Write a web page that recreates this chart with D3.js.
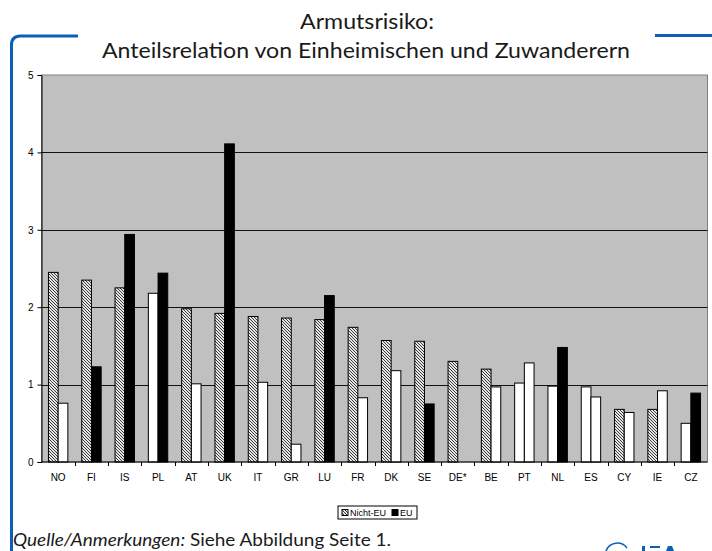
<!DOCTYPE html>
<html>
<head>
<meta charset="utf-8">
<script src="https://cdn.jsdelivr.net/npm/d3@7"></script>
<style>
  body { margin: 0; background: #fff; }
  svg { display: block; }
</style>
</head>
<body>
<svg id="chart" width="712" height="551"></svg>
<script>
// countries, sorted as in the original
var countries = ["NO","FI","IS","PL","AT","UK","IT","GR","LU","FR","DK","SE","DE*","BE","PT","NL","ES","CY","IE","CZ"];
// ratio natives / migrants, non-EU migrants
var nichtEU = [2.45,2.35,2.25,2.18,1.98,1.92,1.88,1.86,1.84,1.74,1.57,1.56,1.30,1.20,1.02,0.98,0.97,0.68,0.68,0.50];
// 1 = significant (patterned), 0 = white bar
var nichtEUSig = [1,1,1,0,1,1,1,1,1,1,1,1,1,1,0,0,0,1,1,0];
// EU migrants
var eu = [0.76,1.23,2.94,2.44,1.01,4.11,1.03,0.23,2.15,0.83,1.18,0.75,null,0.97,1.28,1.48,0.84,0.64,0.92,0.89];
var euSig = [0,1,1,1,0,1,0,0,1,0,0,1,0,0,0,1,0,0,0,1];
var yTicks = [0,1,2,3,4,5];

(function() {
var svg = d3.select("#chart");

var defs = svg.append("defs");
var pat = defs.append("pattern")
    .attr("id", "hatch")
    .attr("patternUnits", "userSpaceOnUse")
    .attr("width", 3).attr("height", 3);
pat.append("rect").attr("width", 3).attr("height", 3).attr("fill", "#e6e6e6");
pat.append("path")
    .attr("d", "M0,0 L3,3 M-1,2 L1,4 M2,-1 L4,1")
    .attr("stroke", "#3a3a3a").attr("stroke-width", 1);

// blue frame
var blue = "#0a60b6";
svg.append("path")
    .attr("d", "M11.5,551 L11.5,45 Q11.5,36 20.5,36 L78,36")
    .attr("fill", "none").attr("stroke", blue).attr("stroke-width", 3);
svg.append("line")
    .attr("x1", 655).attr("x2", 712).attr("y1", 35.5).attr("y2", 35.5)
    .attr("stroke", blue).attr("stroke-width", 3);

// title
var title = svg.append("text")
    .attr("text-anchor", "middle")
    .style("font-family", "Lato")
    .style("font-size", "22px")
    .attr("fill", "#1a1a1a");
title.append("tspan").attr("x", 367).attr("y", 29)
    .attr("textLength", 134).attr("lengthAdjust", "spacingAndGlyphs")
    .text("Armutsrisiko:");
title.append("tspan").attr("x", 366).attr("y", 58)
    .attr("textLength", 528).attr("lengthAdjust", "spacingAndGlyphs")
    .text("Anteilsrelation von Einheimischen und Zuwanderern");

var pLeft = 41.5, pRight = 707.5, pTop = 75, pBottom = 462;

var x = d3.scaleBand().domain(countries).range([pLeft, pRight]).padding(0);
var y = d3.scaleLinear().domain([0, 5]).range([pBottom, pTop]);

var barW = 9.7;

// plot area
svg.append("rect")
    .attr("x", pLeft).attr("y", pTop)
    .attr("width", pRight - pLeft).attr("height", pBottom - pTop)
    .attr("fill", "#c0c0c0")
    .attr("stroke", "#808080");

// gridlines
svg.append("g").selectAll("line")
    .data(yTicks.filter(function(d) { return d > 0 && d < 5; }))
    .enter().append("line")
    .attr("x1", pLeft).attr("x2", pRight)
    .attr("y1", function(d) { return Math.round(y(d)) + 0.5; })
    .attr("y2", function(d) { return Math.round(y(d)) + 0.5; })
    .attr("stroke", "#111");

function fillFor(sig, kind) {
  if (!sig) return "#fff";
  return kind === "n" ? "url(#hatch)" : "#000";
}

var groups = svg.append("g").selectAll("g")
    .data(countries)
    .enter().append("g");

groups.append("rect")
    .attr("x", function(d) { return x(d) + x.bandwidth() / 2 - barW; })
    .attr("y", function(d, i) { return y(nichtEU[i]); })
    .attr("width", barW)
    .attr("height", function(d, i) { return y(0) - y(nichtEU[i]); })
    .attr("fill", function(d, i) { return fillFor(nichtEUSig[i], "n"); })
    .attr("stroke", "#000").attr("stroke-width", 1);

groups.filter(function(d, i) { return eu[i] != null; })
    .append("rect")
    .attr("x", function(d) { return x(d) + x.bandwidth() / 2; })
    .attr("y", function(d) { return y(eu[countries.indexOf(d)]); })
    .attr("width", barW)
    .attr("height", function(d) { return y(0) - y(eu[countries.indexOf(d)]); })
    .attr("fill", function(d) { var i = countries.indexOf(d); return fillFor(euSig[i], "e"); })
    .attr("stroke", "#000").attr("stroke-width", 1);

// y axis
var yAxis = svg.append("g")
    .attr("transform", "translate(" + pLeft + ",0)")
    .call(d3.axisLeft(y).tickValues(yTicks).tickSize(4).tickPadding(4).tickFormat(d3.format("d")));
yAxis.selectAll("text").style("font-family", "Arial").style("font-size", "10px").attr("fill", "#000");
yAxis.selectAll("line").attr("stroke", "#000");
yAxis.select(".domain").attr("stroke", "#000");

// x axis: ticks between categories
var xAxis = svg.append("g")
    .attr("transform", "translate(0," + pBottom + ")");
xAxis.append("line")
    .attr("x1", pLeft).attr("x2", pRight).attr("stroke", "#000");
xAxis.selectAll(".tk")
    .data(countries.slice(1))
    .enter().append("line")
    .attr("x1", function(d) { return Math.round(x(d)) + 0.5; })
    .attr("x2", function(d) { return Math.round(x(d)) + 0.5; })
    .attr("y1", 0).attr("y2", 4)
    .attr("stroke", "#000");
xAxis.selectAll(".lbl")
    .data(countries)
    .enter().append("text")
    .attr("x", function(d) { return x(d) + x.bandwidth() / 2; })
    .attr("y", 19)
    .attr("text-anchor", "middle")
    .style("font-family", "Arial")
    .style("font-size", "10px")
    .text(function(d) { return d; });

// legend
var lg = svg.append("g").attr("transform", "translate(338,506)");
lg.append("rect").attr("width", 79).attr("height", 13)
    .attr("fill", "#fff").attr("stroke", "#000");
lg.append("rect").attr("x", 4).attr("y", 3.5).attr("width", 6).attr("height", 6)
    .attr("fill", "url(#hatch)").attr("stroke", "#000");
lg.append("text").attr("x", 12).attr("y", 10)
    .style("font-family", "Arial").style("font-size", "9px").text("Nicht-EU");
lg.append("rect").attr("x", 54).attr("y", 3.5).attr("width", 6).attr("height", 6)
    .attr("fill", "#000").attr("stroke", "#000");
lg.append("text").attr("x", 62).attr("y", 10)
    .style("font-family", "Arial").style("font-size", "9px").text("EU");

// footnote
var foot = svg.append("text")
    .attr("x", 13).attr("y", 546)
    .style("font-family", "Lato")
    .style("font-size", "17px")
    .attr("fill", "#1a1a1a")
    .attr("textLength", 378).attr("lengthAdjust", "spacingAndGlyphs");
foot.append("tspan").style("font-style", "italic").text("Quelle/Anmerkungen:");
foot.append("tspan").text(" Siehe Abbildung Seite 1.");

// logo fragment (cut by the bottom edge, as in the original)
svg.append("path")
    .attr("d", "M606,551 A12,12 0 0 1 627,548")
    .attr("fill", "none").attr("stroke", blue).attr("stroke-width", 1.5);
svg.append("path")
    .attr("d", "M642,546 h3 v5 h-3 Z M650,546 h10 v2 h-10 Z M668,546 h4 l2,5 h-8 Z")
    .attr("fill", blue);
})();
</script>
</body>
</html>
